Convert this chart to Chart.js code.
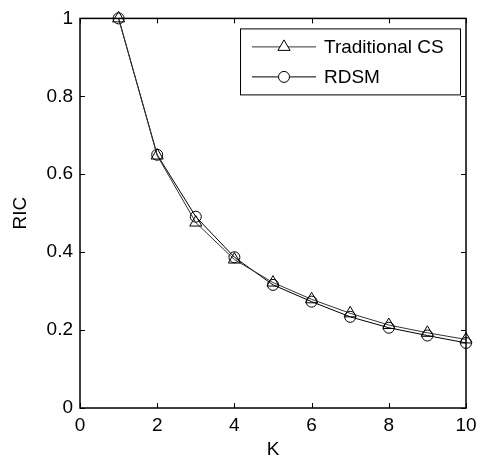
<!DOCTYPE html>
<html>
<head>
<meta charset="utf-8">
<script src="https://cdn.jsdelivr.net/npm/chart.js@4.4.1/dist/chart.umd.min.js"></script>
<style>
  html, body { margin: 0; padding: 0; background: #fff; }
  #wrap { width: 483px; height: 464px; }
</style>
</head>
<body>
<div id="wrap"><canvas id="c" width="483" height="464"></canvas></div>
<script>
// data
const kValues = [1, 2, 3, 4, 5, 6, 7, 8, 9, 10];
const traditionalCS = [1.0, 0.648, 0.476, 0.381, 0.322, 0.279, 0.243, 0.213, 0.193, 0.176];
const rdsm = [1.0, 0.650, 0.491, 0.387, 0.316, 0.273, 0.234, 0.206, 0.186, 0.167];
const xTicks = [0, 2, 4, 6, 8, 10];
const yTicks = [0, 0.2, 0.4, 0.6, 0.8, 1];

const FONT = 'Liberation Sans, Arial, sans-serif';
const FONT_SIZE = 19;

function toPoints(ys) {
  return kValues.map((k, i) => ({ x: k, y: ys[i] }));
}

// matlab style box: frame + inward ticks on all four sides
const boxTicks = {
  id: 'boxTicks',
  afterDraw(chart) {
    const { ctx, chartArea: a, scales } = chart;
    const len = 5;
    ctx.save();
    ctx.strokeStyle = '#000';
    ctx.lineWidth = 1;
    ctx.beginPath();
    xTicks.forEach(v => {
      const px = Math.round(scales.x.getPixelForValue(v)) + 0.5;
      ctx.moveTo(px, a.bottom); ctx.lineTo(px, a.bottom - len);
      ctx.moveTo(px, a.top); ctx.lineTo(px, a.top + len);
    });
    yTicks.forEach(v => {
      const py = Math.round(scales.y.getPixelForValue(v)) + 0.5;
      ctx.moveTo(a.left, py); ctx.lineTo(a.left + len, py);
      ctx.moveTo(a.right, py); ctx.lineTo(a.right - len, py);
    });
    ctx.stroke();
    ctx.lineWidth = 1.5;
    ctx.strokeRect(a.left, a.top, a.right - a.left, a.bottom - a.top);
    ctx.restore();
  }
};

// legend box in the upper right corner, line + marker + label
const boxLegend = {
  id: 'boxLegend',
  afterDraw(chart) {
    const { ctx, chartArea: a } = chart;
    const w = 220, h = 66;
    const x0 = a.right - 6 - w, y0 = a.top + 10;
    ctx.save();
    ctx.fillStyle = '#fff';
    ctx.fillRect(x0, y0, w, h);
    ctx.strokeStyle = '#000';
    ctx.lineWidth = 1;
    ctx.strokeRect(x0 + 0.5, y0 + 0.5, w, h);
    chart.data.datasets.forEach((ds, i) => {
      const cy = y0 + 18 + i * 30;
      ctx.strokeStyle = ds.borderColor;
      ctx.lineWidth = 1;
      ctx.beginPath();
      ctx.moveTo(x0 + 12, cy + 0.5);
      ctx.lineTo(x0 + 76, cy + 0.5);
      ctx.stroke();
      ctx.fillStyle = '#fff';
      ctx.strokeStyle = '#000';
      Chart.helpers.drawPoint(ctx, {
        pointStyle: ds.pointStyle,
        radius: ds.pointRadius,
        borderWidth: 1
      }, x0 + 44, cy + 0.5);
      ctx.fillStyle = '#000';
      ctx.font = FONT_SIZE + 'px ' + FONT;
      ctx.textBaseline = 'middle';
      ctx.textAlign = 'left';
      ctx.fillText(ds.label, x0 + 84, cy + 1);
    });
    ctx.restore();
  }
};

new Chart(document.getElementById('c'), {
  type: 'scatter',
  data: {
    datasets: [
      {
        label: 'Traditional CS',
        data: toPoints(traditionalCS),
        showLine: true,
        borderColor: '#333',
        borderWidth: 1,
        pointStyle: 'triangle',
        pointRadius: 7,
        pointBorderColor: '#000',
        pointBorderWidth: 1,
        pointBackgroundColor: 'rgba(0,0,0,0)'
      },
      {
        label: 'RDSM',
        data: toPoints(rdsm),
        showLine: true,
        borderColor: '#000',
        borderWidth: 1,
        pointStyle: 'circle',
        pointRadius: 5.5,
        pointBorderColor: '#000',
        pointBorderWidth: 1,
        pointBackgroundColor: 'rgba(0,0,0,0)'
      }
    ]
  },
  options: {
    responsive: false,
    animation: false,
    clip: false,
    layout: { padding: { top: 15, right: 17, left: 0, bottom: 0 } },
    plugins: {
      legend: { display: false },
      tooltip: { enabled: false }
    },
    scales: {
      x: {
        type: 'linear',
        min: 0,
        max: 10,
        afterBuildTicks(scale) { scale.ticks = xTicks.map(v => ({ value: v })); },
        afterFit(scale) { scale.height = 56; },
        grid: { display: false, drawTicks: false },
        border: { display: false },
        ticks: {
          color: '#000',
          padding: 6,
          maxRotation: 0,
          callback: v => String(v),
          font: { family: FONT, size: FONT_SIZE }
        },
        title: {
          display: true,
          text: 'K',
          color: '#000',
          padding: { top: 0, bottom: 3 },
          font: { family: FONT, size: FONT_SIZE }
        }
      },
      y: {
        type: 'linear',
        min: 0,
        max: 1,
        afterBuildTicks(scale) { scale.ticks = yTicks.map(v => ({ value: v })); },
        afterFit(scale) { scale.width = 80; },
        grid: { display: false, drawTicks: false },
        border: { display: false },
        ticks: {
          color: '#000',
          padding: 7,
          callback: v => String(+v.toFixed(1)),
          font: { family: FONT, size: FONT_SIZE }
        },
        title: {
          display: true,
          text: 'RIC',
          color: '#000',
          padding: { top: 9, bottom: 0 },
          font: { family: FONT, size: FONT_SIZE }
        }
      }
    }
  },
  plugins: [boxTicks, boxLegend]
});
</script>
</body>
</html>
